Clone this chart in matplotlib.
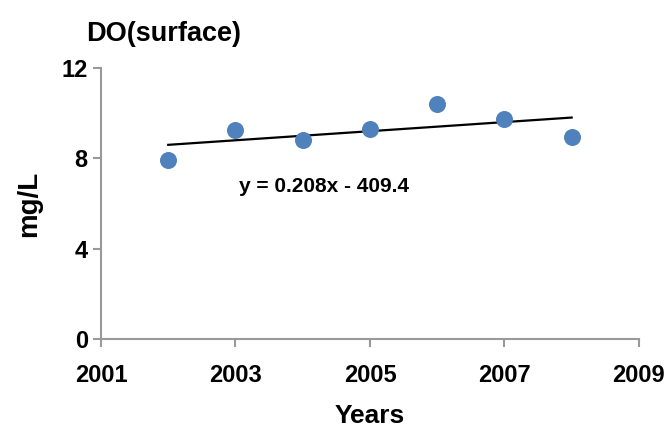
import numpy as np
import matplotlib.pyplot as plt

plt.rcParams['font.family'] = ['Liberation Sans', 'DejaVu Sans']
plt.rcParams['font.weight'] = 'bold'

# surface dissolved oxygen, yearly
years = [2002, 2003, 2004, 2005, 2006, 2007, 2008]
do_surface = [7.92, 9.25, 8.82, 9.30, 10.42, 9.72, 8.95]
trend_label = 'y = 0.208x - 409.4'

fig = plt.figure(figsize=(6.69, 4.32), dpi=100)
ax = fig.add_axes([0.151, 0.215, 0.804, 0.628])

ax.scatter(years, do_surface, s=150, color='#4f81bd', zorder=3, linewidths=0)

# linear trend over the sampled years
slope, intercept = np.polyfit(years, do_surface, 1)
xs = np.array([years[0], years[-1]])
ax.plot(xs, slope * xs + intercept, color='black', lw=1.6, zorder=2)
ax.text(2003.05, 6.5, trend_label, fontsize=15, fontweight='bold')

ax.set_xlim(2001, 2009)
ax.set_ylim(0, 12)
ax.set_xticks([2001, 2003, 2005, 2007, 2009])
ax.set_yticks([0, 4, 8, 12])

for s in ['top', 'right']:
    ax.spines[s].set_visible(False)
for s in ['left', 'bottom']:
    ax.spines[s].set_color('#999999')
    ax.spines[s].set_linewidth(1.5)
ax.tick_params(colors='#999999', width=1.5, length=6, labelcolor='black', labelsize=17)
ax.tick_params(axis='x', pad=12)
for lab in ax.get_xticklabels() + ax.get_yticklabels():
    lab.set_fontweight('bold')

ax.set_xlabel('Years', fontsize=19, fontweight='bold', labelpad=12)
ax.set_ylabel('mg/L', fontsize=20, fontweight='bold', labelpad=14)
fig.text(0.129, 0.905, 'DO(surface)', fontsize=19.5, fontweight='bold')

fig.savefig('out.png', dpi=100)
